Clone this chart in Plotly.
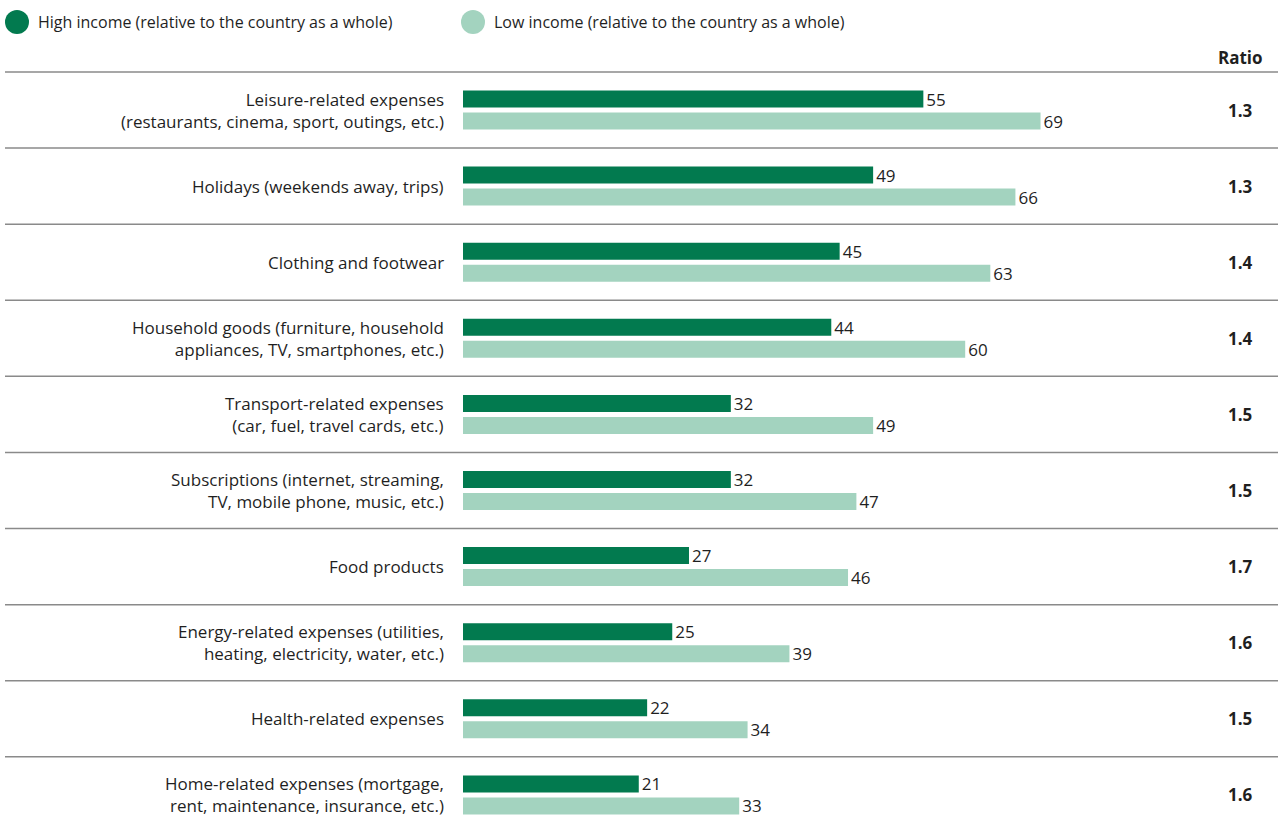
import plotly.graph_objects as go

categories = [
    "Leisure-related expenses<br>(restaurants, cinema, sport, outings, etc.)",
    "Holidays (weekends away, trips)",
    "Clothing and footwear",
    "Household goods (furniture, household<br>appliances, TV, smartphones, etc.)",
    "Transport-related expenses<br>(car, fuel, travel cards, etc.)",
    "Subscriptions (internet, streaming,<br>TV, mobile phone, music, etc.)",
    "Food products",
    "Energy-related expenses (utilities,<br>heating, electricity, water, etc.)",
    "Health-related expenses",
    "Home-related expenses (mortgage,<br>rent, maintenance, insurance, etc.)",
]
high_income = [55, 49, 45, 44, 32, 32, 27, 25, 22, 21]
low_income = [69, 66, 63, 60, 49, 47, 46, 39, 34, 33]
ratios = ["1.3", "1.3", "1.4", "1.4", "1.5", "1.5", "1.7", "1.6", "1.5", "1.6"]

series_names = [
    "High income (relative to the country as a whole)",
    "Low income (relative to the country as a whole)",
]
DARK = "#027A4F"
LIGHT = "#A3D3BF"
TEXT = "#1f1f1f"
FONT = "Open Sans"

W, H = 1278, 816
x0_px = 463          # left edge of the bars
px_per_unit = 8.37
row0_px = 110.0      # centre of first row
row_px = 76.1        # row pitch

rows = list(range(len(categories)))

fig = go.Figure()
for vals, color, name in [(high_income, DARK, series_names[0]), (low_income, LIGHT, series_names[1])]:
    fig.add_trace(go.Bar(
        x=vals, y=rows, orientation="h", name=name,
        marker=dict(color=color, line=dict(width=0)),
        text=[str(v) for v in vals], textposition="outside",
        constraintext="none",
        textfont=dict(family=FONT, size=17, color=TEXT),
        cliponaxis=False, showlegend=False,
    ))

y_top = -row0_px / row_px
y_bot = (H - row0_px) / row_px

fig.update_layout(
    width=W, height=H,
    margin=dict(l=0, r=0, t=0, b=0),
    paper_bgcolor="white", plot_bgcolor="white",
    barmode="group", bargap=1 - 44 / row_px, bargroupgap=5 / 22,
    xaxis=dict(domain=[x0_px / W, 1], range=[0, (W - x0_px) / px_per_unit],
               visible=False, fixedrange=True),
    yaxis=dict(domain=[0, 1], range=[y_bot, y_top], visible=False, fixedrange=True),
    font=dict(family=FONT, color=TEXT),
)

shapes = []
annotations = []

# row separators
for i in range(len(categories) + 1):
    shapes.append(dict(type="line", xref="paper", yref="y", x0=5 / W, x1=1,
                       y0=i - 0.5, y1=i - 0.5, line=dict(color="#8a8a8a", width=1.5)))

# category labels and ratio column
for i, (cat, r) in enumerate(zip(categories, ratios)):
    annotations.append(dict(xref="paper", yref="y", x=446 / W, y=i, text=cat,
                            xanchor="right", yanchor="middle", align="right", showarrow=False,
                            font=dict(family=FONT, size=17, color=TEXT)))
    annotations.append(dict(xref="paper", yref="y", x=1240 / W, y=i, text="<b>" + r + "</b>",
                            xanchor="center", yanchor="middle", showarrow=False,
                            font=dict(family=FONT, size=17, color=TEXT)))

annotations.append(dict(xref="paper", yref="paper", x=1240 / W, y=1 - 58 / H, text="<b>Ratio</b>",
                        xanchor="center", yanchor="middle", showarrow=False,
                        font=dict(family=FONT, size=17, color=TEXT)))

# legend
for cx, color, name in [(17, DARK, series_names[0]), (473, LIGHT, series_names[1])]:
    shapes.append(dict(type="circle", xref="paper", yref="paper",
                       x0=(cx - 12) / W, x1=(cx + 12) / W,
                       y0=1 - 34 / H, y1=1 - 10 / H,
                       fillcolor=color, line=dict(width=0)))
    annotations.append(dict(xref="paper", yref="paper", x=(cx + 19) / W, y=1 - 22 / H, text=name,
                            xanchor="left", yanchor="middle", showarrow=False,
                            font=dict(family=FONT, size=16, color=TEXT)))

fig.update_layout(shapes=shapes, annotations=annotations)
fig.write_html("out.html")
